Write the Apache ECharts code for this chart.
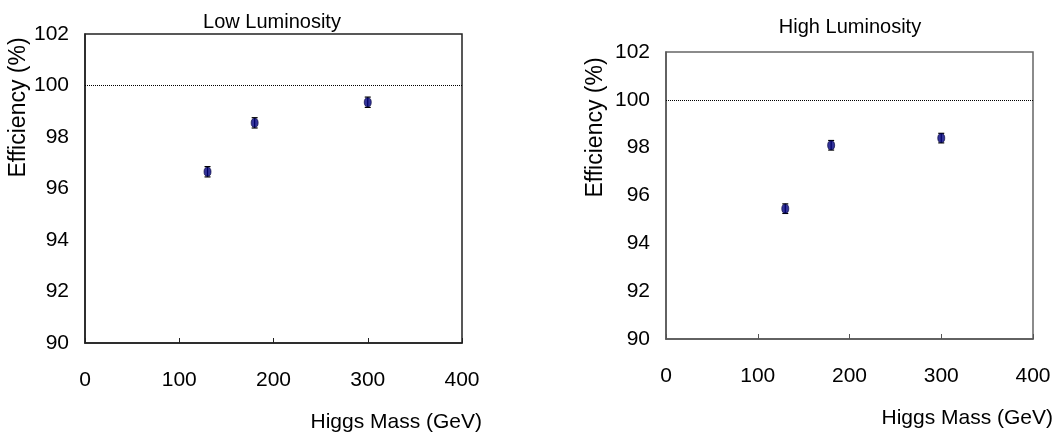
<!DOCTYPE html>
<html><head><meta charset="utf-8">
<script src="https://cdn.jsdelivr.net/npm/echarts@6/dist/echarts.min.js"></script>
<style>html,body{margin:0;padding:0;background:#fff}#c{width:1056px;height:435px}</style>
</head><body><div id="c"></div>
<script>
const masses = [130, 180, 300];
const lowLumi = [96.65, 98.55, 99.35];
const lowErr = [0.2, 0.2, 0.2];
const highLumi = [95.45, 98.1, 98.4];
const highErr = [0.2, 0.2, 0.2];
const reference = 100;
const titles = ['Low Luminosity', 'High Luminosity'];
const xName = 'Higgs Mass (GeV)';
const yName = 'Efficiency (%)';

const font = "'Liberation Sans',Arial,sans-serif";

function pts(vals){ return masses.map((m,i)=>[m, vals[i]]); }
function errPts(vals, errs){ return masses.map((m,i)=>[m, vals[i]-errs[i], vals[i]+errs[i]]); }

function errSeries(idx, vals, errs){
  return {
    type:'custom', xAxisIndex:idx, yAxisIndex:idx, z:3,
    data: errPts(vals, errs),
    renderItem:function(params, api){
      const x = api.value(0);
      const lo = api.coord([x, api.value(1)]);
      const hi = api.coord([x, api.value(2)]);
      const w = 3;
      const st = {stroke:'#000', lineWidth:1.2};
      return {type:'group', children:[
        {type:'line', shape:{x1:lo[0],y1:lo[1],x2:hi[0],y2:hi[1]}, style:st},
        {type:'line', shape:{x1:lo[0]-w,y1:lo[1],x2:lo[0]+w,y2:lo[1]}, style:st},
        {type:'line', shape:{x1:hi[0]-w,y1:hi[1],x2:hi[0]+w,y2:hi[1]}, style:st}
      ]};
    }
  };
}

function xAx(idx, col){
  return {
    type:'value', gridIndex:idx, min:0, max:400, interval:100,
    name:xName, nameLocation:'end', nameGap:20,
    nameTextStyle:{fontFamily:font, fontSize:21, color:'#000', align:'right', verticalAlign:'top', padding:[69,0,0,0]},
    axisLine:{show:true, onZero:false, lineStyle:{color:col, width:1.5}},
    axisTick:{show:true, inside:true, length:5, lineStyle:{color:col, width:1}},
    axisLabel:{fontFamily:font, fontSize:21, color:'#000', margin:27},
    splitLine:{show:false}
  };
}
function yAx(idx, col, gap, shift){
  return {
    type:'value', gridIndex:idx, min:90, max:102, interval:2,
    name:yName, nameLocation:'middle', nameGap:gap, nameRotate:90,
    nameTextStyle:{fontFamily:font, fontSize:23, color:'#000', padding:[0,0,0,shift]},
    axisLine:{show:true, onZero:false, lineStyle:{color:col, width:1.5}},
    axisTick:{show:false},
    axisLabel:{fontFamily:font, fontSize:21, color:'#000', margin:16},
    splitLine:{show:false}
  };
}
function scatter(idx, vals){
  return {
    type:'scatter', xAxisIndex:idx, yAxisIndex:idx, z:4,
    data: pts(vals), symbol:'circle', symbolSize:[7,9],
    itemStyle:{color:'#000080', borderColor:'#00003a', borderWidth:0.8},
    markLine:{
      silent:true, symbol:'none', label:{show:false},
      lineStyle:{color:'#000', type:'dotted', width:1},
      data:[{yAxis:reference}]
    }
  };
}

const chart = echarts.init(document.getElementById('c'), null, {renderer:'canvas'});
chart.setOption({
  animation:false,
  title:[
    {text:titles[0], left:267, top:7, textAlign:'center', textStyle:{fontFamily:font, fontSize:20, fontWeight:'normal', color:'#000'}},
    {text:titles[1], left:845, top:12, textAlign:'center', textStyle:{fontFamily:font, fontSize:20, fontWeight:'normal', color:'#000'}}
  ],
  grid:[
    {left:85, right:594, top:34, bottom:92, show:true, borderColor:'#222', borderWidth:1.5, backgroundColor:'transparent'},
    {left:666, right:17, top:52, bottom:96, show:true, borderColor:'#666', borderWidth:1.5, backgroundColor:'transparent'}
  ],
  xAxis:[xAx(0,'#222'), xAx(1,'#555')],
  yAxis:[yAx(0,'#222',54,162), yAx(1,'#555',59,136)],
  series:[
    errSeries(0, lowLumi, lowErr), scatter(0, lowLumi),
    errSeries(1, highLumi, highErr), scatter(1, highLumi)
  ]
});
</script></body></html>
